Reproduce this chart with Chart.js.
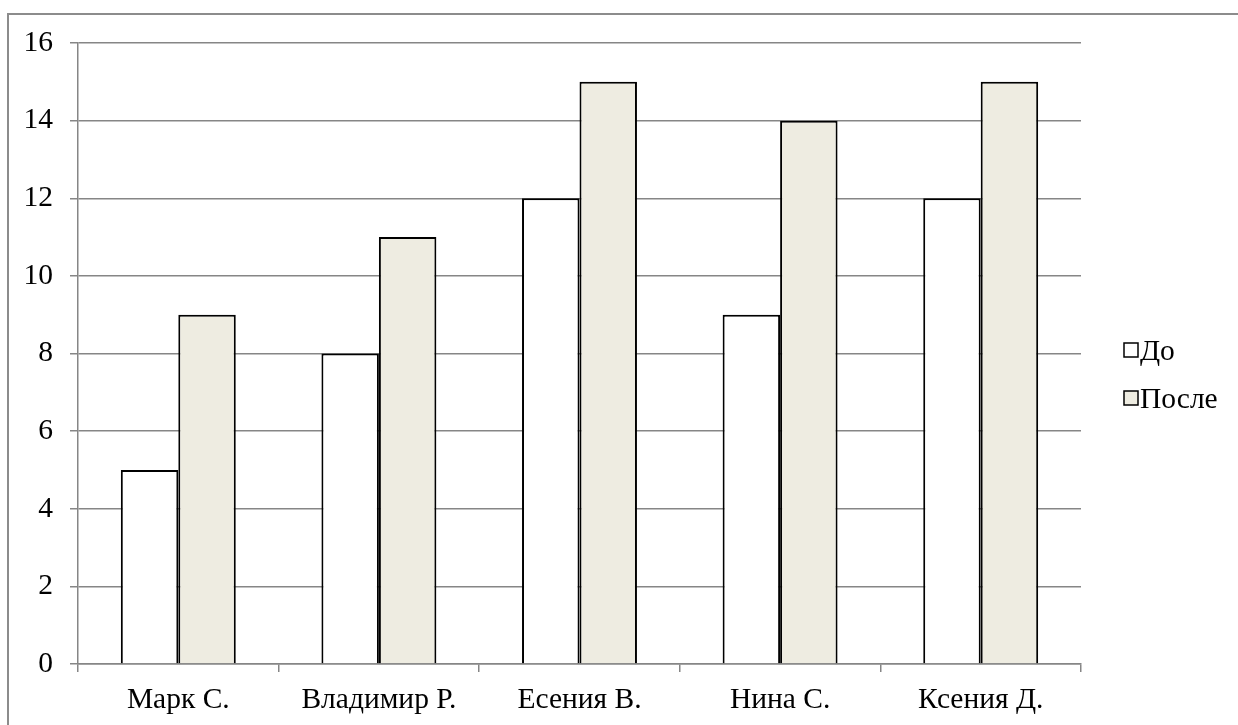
<!DOCTYPE html>
<html>
<head>
<meta charset="utf-8">
<script src="https://cdn.jsdelivr.net/npm/chart.js@4"></script>
<style>
    html, body { margin: 0; padding: 0; background: #fff; overflow: hidden; }
    #wrap { position: relative; width: 1238px; height: 725px; }
    #frame { position: absolute; left: 7px; top: 13px; width: 1240px; height: 730px; border: 2px solid #8c8c8c; box-sizing: border-box; }
    #chart { position: absolute; left: 0; top: 0; }
</style>
</head>
<body>
<div id="wrap">
    <div id="frame"></div>
    <canvas id="chart" width="1238" height="725"></canvas>
</div>
<script>
const categories = ["Марк С.", "Владимир Р.", "Есения В.", "Нина С.", "Ксения Д."];
const seriesNames = ["До", "После"];
const before = [5, 8, 12, 9, 12];
const after = [9, 11, 15, 14, 15];

const FONT = "Liberation Serif";
const FONT_SIZE = 29.5;
const GRID = "#868686";

// legend drawn by hand so it sits where Excel put it
const sideLegend = {
    id: "sideLegend",
    afterDraw(chart) {
        const ctx = chart.ctx;
        ctx.save();
        ctx.font = FONT_SIZE + "px \"" + FONT + "\"";
        ctx.textBaseline = "middle";
        chart.data.datasets.forEach((ds, i) => {
            const y = 350 + i * 48;
            ctx.fillStyle = ds.backgroundColor;
            ctx.fillRect(1124, y - 7, 14, 14);
            ctx.strokeStyle = "#000";
            ctx.lineWidth = 1.5;
            ctx.strokeRect(1124, y - 7, 14, 14);
            ctx.fillStyle = "#000";
            ctx.fillText(ds.label, 1140, y + 2);
        });
        ctx.restore();
    },
};

const ctx = document.getElementById("chart").getContext("2d");
new Chart(ctx, {
    type: "bar",
    data: {
        labels: categories,
        datasets: [
            {
                label: seriesNames[0],
                data: before,
                backgroundColor: "#ffffff",
                borderColor: "#000000",
                borderWidth: 2,
            },
            {
                label: seriesNames[1],
                data: after,
                backgroundColor: "#eeece1",
                borderColor: "#000000",
                borderWidth: 2,
            },
        ],
    },
    plugins: [sideLegend],
    options: {
        responsive: false,
        animation: false,
        devicePixelRatio: 1,
        layout: {
            padding: { top: 43, left: 0, right: 157, bottom: 0 },
        },
        datasets: {
            bar: { categoryPercentage: 0.573, barPercentage: 1 },
        },
        plugins: {
            legend: { display: false },
            tooltip: { enabled: false },
        },
        scales: {
            x: {
                grid: { display: true, drawOnChartArea: false, offset: true, color: GRID, lineWidth: 1.5, tickLength: 8 },
                border: { color: GRID, width: 1.5 },
                ticks: { color: "#000", font: { family: FONT, size: FONT_SIZE }, padding: 11, maxRotation: 0 },
                afterFit: (scale) => { scale.height = 61; },
            },
            y: {
                min: 0,
                max: 16,
                ticks: { stepSize: 2, color: "#000", font: { family: FONT, size: FONT_SIZE }, padding: 17 },
                grid: { color: GRID, lineWidth: 1.5, tickLength: 8 },
                border: { color: GRID, width: 1.5 },
                afterFit: (scale) => { scale.width = 78; },
            },
        },
    },
});
</script>
</body>
</html>
